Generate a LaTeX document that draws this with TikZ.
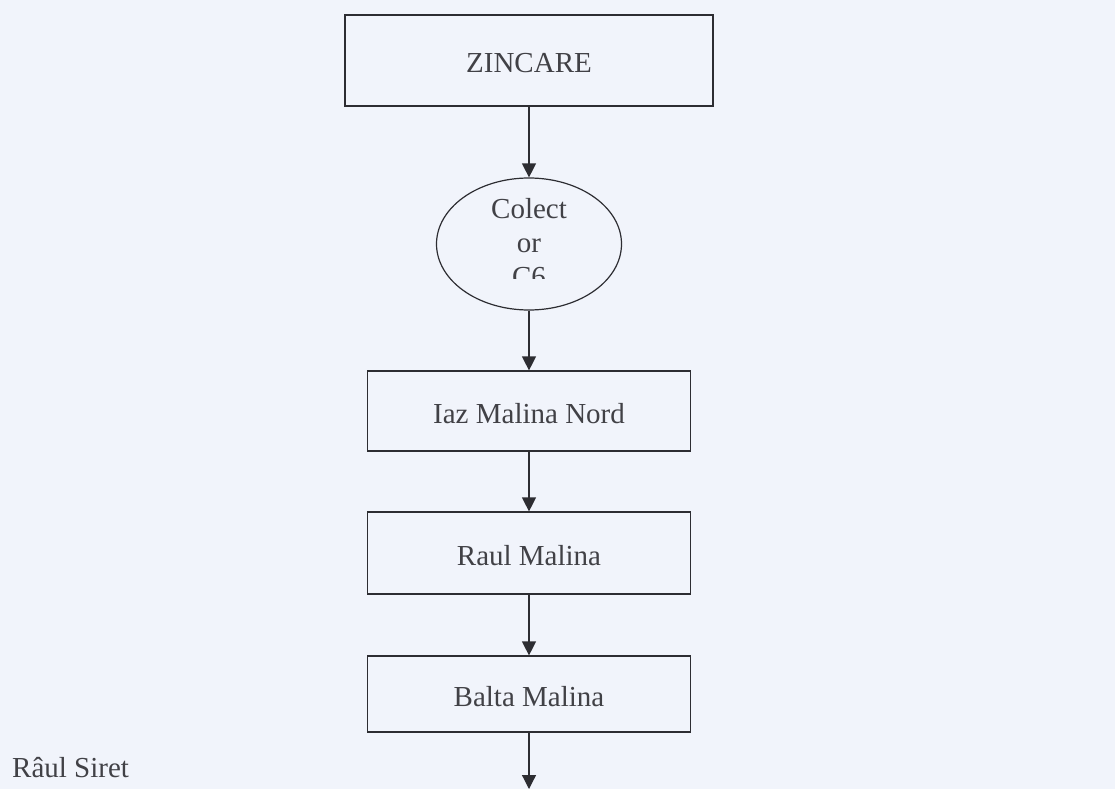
\documentclass[tikz,border=0pt]{standalone}
\usepackage{fontspec}
\setmainfont{Liberation Serif}
\usetikzlibrary{arrows.meta,shapes.geometric}
\definecolor{bg}{RGB}{241,244,251}
\definecolor{ink}{RGB}{45,45,50}
\definecolor{txt}{RGB}{65,65,70}
\tikzset{
  box/.style={draw=ink, line width=1.2pt, rectangle, inner sep=0pt, text=txt, text height=24pt, text depth=0pt, font=\fontsize{29}{34}\selectfont},
  lbl/.style={text=txt, inner sep=0pt, font=\fontsize{29}{34}\selectfont},
  arr/.style={draw=ink, line width=1.2pt, -{Triangle[length=14pt,width=14pt]}}
}
\begin{document}
\begin{tikzpicture}[x=1pt,y=-1pt]
  \fill[bg] (0,0) rectangle (1115,789);
  \useasboundingbox (0,0) rectangle (1115,789);
  \node[box, minimum width=368pt, minimum height=91pt] (zinc) at (529,60.5) {ZINCARE};
  \node[draw=ink, line width=1.2pt, ellipse, minimum width=185pt, minimum height=132pt, inner sep=0pt] (col) at (529,244) {};
  \begin{scope}
    \clip (430,170) rectangle (630,278.5);
    \node[lbl, anchor=base] (colA) at (529,218) {Colect};
    \node[lbl, anchor=base] (colB) at (529,252) {or};
    \node[lbl, anchor=base] (colC) at (529,286) {C6};
  \end{scope}
  \node[box, minimum width=323pt, minimum height=80pt] (iaz) at (529,411) {Iaz Malina Nord};
  \node[box, minimum width=323pt, minimum height=82pt] (raul) at (529,553) {Raul Malina};
  \node[box, minimum width=323pt, minimum height=76pt] (balta) at (529,694) {Balta Malina};
  \coordinate (out) at (529,789);
  \node[lbl, anchor=base west] (siret) at (12,777) {Râul Siret};
  \draw[arr] (zinc) -- (col);
  \draw[arr] (col) -- (iaz);
  \draw[arr] (iaz) -- (raul);
  \draw[arr] (raul) -- (balta);
  \draw[arr] (balta) -- (out);
\end{tikzpicture}
\end{document}
